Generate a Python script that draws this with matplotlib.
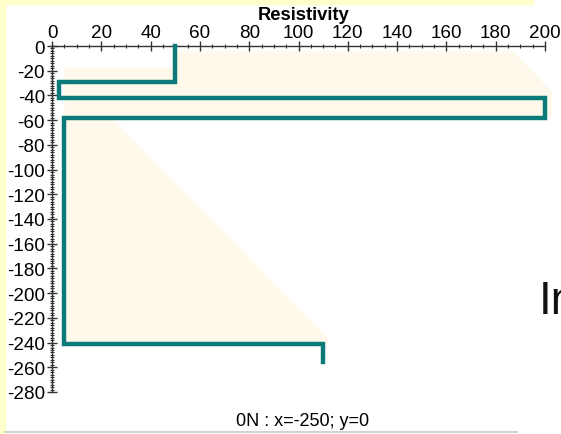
import numpy as np
import matplotlib
matplotlib.use("Agg")
import matplotlib.pyplot as plt
from matplotlib.ticker import MultipleLocator
from matplotlib.patches import Rectangle
from matplotlib.lines import Line2D

plt.rcParams['font.family'] = ['Liberation Sans', 'DejaVu Sans']
plt.rcParams['axes.unicode_minus'] = False

# ---- data ----
resistivity = [50, 3, 200, 5, 110]          # layer resistivities
layer_depths = [0, 29, 42, 58, 241, 256]    # layer boundaries (depth, m)
x_ticks = [0, 20, 40, 60, 80, 100, 120, 140, 160, 180, 200]
y_ticks = [0, -20, -40, -60, -80, -100, -120, -140, -160, -180, -200, -220, -240, -260, -280]
x_label = "Resistivity"
footer = "0N : x=-250; y=0"

# faint background shading (data coords)
shade_top_x = [4, 48, 50, 187, 203, 203, 5, 5]
shade_top_y = [-18, -18, -4, -4, -38, -58, -58, -18]
shade_low_x = [5, 24, 112, 112, 5]
shade_low_y = [-58, -58, -236, -241, -241]

# step profile from layers
step_x = np.repeat(resistivity, 2)
step_y = []
for i in range(len(resistivity)):
    step_y += [-layer_depths[i], -layer_depths[i + 1]]
step_y = np.array(step_y)

W, H = 561, 435
fig = plt.figure(figsize=(W / 100, H / 100), dpi=100)
fig.patch.set_facecolor('white')

# slide decorations
yellow = '#FFFFCC'
fig.add_artist(Rectangle((0, 0), 5 / W, 1, transform=fig.transFigure, color=yellow, zorder=0))
fig.add_artist(Rectangle((0, 1 - 5 / H), 533 / W, 5 / H, transform=fig.transFigure, color=yellow, zorder=0))
fig.add_artist(Line2D([5 / W, 517 / W], [1 - 432.5 / H] * 2, transform=fig.transFigure, color='#C8C8C8', lw=1.2))
fig.text(539 / W, 1 - 302 / H, "In", fontsize=33, va='center', ha='left', color='#111111')

ax = fig.add_axes([52 / W, 1 - 393 / H, (545 - 52) / W, (393 - 47) / H])
ax.set_facecolor('none')
ax.set_xlim(0, 200)
ax.set_ylim(-280, 0)

cream = '#FFF9EC'
ax.fill(shade_top_x, shade_top_y, color=cream, lw=0, zorder=1, clip_on=False)
ax.fill(shade_low_x, shade_low_y, color=cream, lw=0, zorder=1, clip_on=False)

ax.plot(step_x, step_y, color='#0A7B78', lw=3.2, solid_joinstyle='miter', zorder=3, clip_on=False)

for s in ['right', 'bottom']:
    ax.spines[s].set_visible(False)
for s in ['top', 'left']:
    ax.spines[s].set_color('#333333')
    ax.spines[s].set_linewidth(1.0)

ax.xaxis.tick_top()
ax.set_xticks(x_ticks)
ax.set_xticklabels([str(v) for v in x_ticks])
ax.set_yticks(y_ticks)
ax.set_yticklabels([str(v) for v in y_ticks])
ax.xaxis.set_minor_locator(MultipleLocator(5))
ax.yaxis.set_minor_locator(MultipleLocator(2))
ax.tick_params(which='major', direction='inout', length=7, width=1, color='#333333',
               labelsize=13.6)
ax.tick_params(which='minor', direction='inout', length=3.5, width=0.8, color='#333333')
ax.tick_params(axis='x', which='both', top=True, bottom=False, labeltop=True, labelbottom=False, pad=0)
ax.tick_params(axis='y', which='both', right=False, pad=1.5)

fig.text(304 / W, 1 - 16 / H, x_label, fontsize=13.2, fontweight='bold', ha='center', va='center')
fig.text(303 / W, 1 - 422 / H, footer, fontsize=13, ha='center', va='center')

fig.savefig('out.png', dpi=100)
